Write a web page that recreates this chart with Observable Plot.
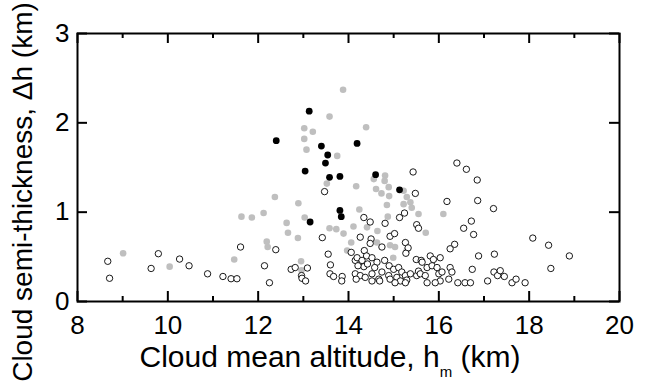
<!DOCTYPE html>
<html>
<head>
<meta charset="utf-8">
<script src="https://cdn.jsdelivr.net/npm/d3@7"></script>
<script src="https://cdn.jsdelivr.net/npm/@observablehq/plot@0.6"></script>
<style>
  html, body { margin: 0; padding: 0; background: #fff; }
  #chart { width: 646px; height: 386px; }
</style>
</head>
<body>
<div id="chart"></div>
<script>
// Black filled circles
const blackPts = [
  [12.40,1.80],[13.13,2.13],[13.04,1.46],[13.40,1.74],[13.54,1.64],[13.49,1.55],
  [14.19,1.77],[13.58,1.39],[13.81,1.40],[14.60,1.42],[15.13,1.25],[13.81,1.02],
  [13.84,0.95],[13.15,0.89]
];
// Gray filled circles
const grayPts = [
  [9.01,0.54],[10.04,0.39],[11.47,0.47],[11.63,0.95],[11.86,0.94],[12.12,0.99],
  [12.37,1.17],[12.63,0.88],[12.66,0.77],[12.19,0.67],[12.21,0.61],[12.89,1.10],
  [12.88,0.71],[13.03,0.94],[12.95,0.45],[12.96,0.35],[13.52,1.32],[13.58,0.82],
  [13.73,0.81],[13.88,2.37],[13.58,2.07],[13.02,1.94],[13.21,1.90],[13.02,1.82],
  [13.07,1.70],[14.39,1.95],[13.75,1.63],[13.89,0.76],[14.06,0.66],[13.97,0.57],
  [14.11,0.84],[14.24,1.03],[14.17,1.29],[14.56,1.37],[14.81,1.41],[14.80,1.35],
  [14.61,1.26],[14.89,1.28],[14.73,1.21],[14.90,1.18],[14.85,1.08],[15.29,1.17],
  [15.22,1.09],[15.37,1.11],[15.55,0.98],[14.41,0.83],[14.64,0.79],[14.87,0.95],
  [15.03,0.61],[15.29,0.57],[14.99,0.49],[14.63,0.66],[14.92,0.63],[16.10,0.98],
  [15.71,0.77],[15.22,1.24],[15.40,1.05]
];
// Open circles
const openPts = [
  [8.67,0.45],[8.71,0.26],[9.63,0.37],[9.79,0.535],[10.26,0.475],[10.47,0.40],
  [10.88,0.31],[11.22,0.28],[11.40,0.255],[11.53,0.255],[11.61,0.61],[12.14,0.40],
  [12.25,0.21],[12.39,0.58],
  [12.73,0.36],[12.82,0.38],[13.09,0.375],[12.96,0.29],[12.97,0.26],[13.05,0.23],
  [13.42,0.715],[13.47,1.23],[13.55,0.53],[13.60,0.41],[13.59,0.31],[13.67,0.28],
  [13.86,0.28],[13.85,0.23],
  [14.34,0.94],[14.48,0.89],[14.26,0.72],[14.50,0.70],[14.48,0.65],[14.35,0.57],
  [14.40,0.51],[14.06,0.55],[14.15,0.46],[14.19,0.49],[14.30,0.46],[14.34,0.39],
  [14.21,0.40],[14.42,0.42],[14.52,0.49],[14.63,0.44],[14.58,0.38],[14.15,0.31],
  [14.26,0.29],[14.17,0.25],[14.37,0.27],[14.52,0.31],[14.52,0.23],
  [14.74,0.61],[14.81,0.875],[14.92,0.73],[15.02,0.76],[15.13,0.94],[15.24,0.99],
  [15.43,1.45],[15.48,1.21],[15.51,0.86],[15.55,0.82],[15.26,0.66],[15.32,0.60],
  [15.27,0.54],[15.50,0.47],[15.61,0.46],[14.67,0.25],[14.74,0.33],[14.80,0.46],
  [14.90,0.40],[15.00,0.36],[15.11,0.38],[15.18,0.33],[15.26,0.29],[15.37,0.31],
  [15.51,0.29],[15.55,0.34],[14.89,0.29],[15.07,0.27],[15.15,0.23],[15.29,0.24],
  [14.69,0.23],[14.92,0.25],[15.03,0.21],[15.26,0.21],
  [15.63,0.44],[15.81,0.51],[15.88,0.47],[16.03,0.49],[15.74,0.38],[15.59,0.31],
  [15.70,0.29],[15.85,0.40],[15.96,0.38],[16.00,0.31],[16.07,0.33],[16.03,0.23],
  [15.74,0.21],[15.92,0.21],[16.25,0.38],[16.29,0.33],[16.22,0.25],[16.42,0.21],
  [16.58,0.21],[16.70,0.21],[16.74,0.36],[16.40,1.55],[16.61,1.48],[16.85,1.36],
  [16.18,1.12],[16.86,1.13],[17.21,1.04],[16.72,0.90],[16.55,0.82],[16.77,0.75],
  [16.35,0.64],[16.25,0.59],[16.88,0.51],[17.23,0.53],[17.08,0.23],[17.22,0.33],
  [18.08,0.71],[18.43,0.63],[18.89,0.51],[18.48,0.37],[17.30,0.29],[17.36,0.345],
  [17.45,0.28],[17.62,0.21],[17.71,0.25],[17.91,0.21]
];
const xMajorTicks = [8, 10, 12, 14, 16, 18, 20];
const xMinorTicks = [9, 11, 13, 15, 17, 19];
const yMajorTicks = [0, 1, 2, 3];
const xTitle = "Cloud mean altitude, h";
const xTitleSub = "m";
const xTitleEnd = " (km)";
const yTitle = "Cloud semi-thickness, \u0394h (km)";

const W = 646, H = 386;
const mL = 77, mR = 27, mT = 33, mB = 85;
const innerH = H - mT - mB;
const majorLen = 10, minorLen = 5;
const FONT = "'Liberation Sans', Arial, sans-serif";

const chart = Plot.plot({
  width: W, height: H,
  marginLeft: mL, marginRight: mR, marginTop: mT, marginBottom: mB,
  style: { fontFamily: FONT, background: "#fff", color: "#000" },
  x: { domain: [8, 20] },
  y: { domain: [0, 3] },
  marks: [
    Plot.dot(grayPts, { x: d => d[0], y: d => d[1], r: 3.3, fill: "#bfbfbf", stroke: "none" }),
    Plot.dot(openPts, { x: d => d[0], y: d => d[1], r: 3.2, fill: "white", stroke: "black", strokeWidth: 0.9 }),
    Plot.dot(blackPts, { x: d => d[0], y: d => d[1], r: 3.4, fill: "black", stroke: "none" }),
    // inward ticks on all four sides
    Plot.tickX(xMajorTicks, { x: d => d, insetTop: innerH - majorLen, stroke: "black", strokeWidth: 2 }),
    Plot.tickX(xMajorTicks, { x: d => d, insetBottom: innerH - majorLen, stroke: "black", strokeWidth: 2 }),
    Plot.tickX(xMinorTicks, { x: d => d, insetTop: innerH - minorLen, stroke: "black", strokeWidth: 2 }),
    Plot.tickX(xMinorTicks, { x: d => d, insetBottom: innerH - minorLen, stroke: "black", strokeWidth: 2 }),
    Plot.tickY(yMajorTicks, { y: d => d, insetRight: (W - mL - mR) - majorLen, stroke: "black", strokeWidth: 2 }),
    Plot.tickY(yMajorTicks, { y: d => d, insetLeft: (W - mL - mR) - majorLen, stroke: "black", strokeWidth: 2 }),
    Plot.axisX({ ticks: xMajorTicks, tickSize: 0, tickPadding: 14, fontSize: 26, label: null, tickFormat: d => String(d) }),
    Plot.axisY({ ticks: yMajorTicks, tickSize: 0, tickPadding: 8, fontSize: 26, label: null, tickFormat: d => String(d) }),
    Plot.frame({ stroke: "black", strokeWidth: 2 })
  ]
});

document.getElementById("chart").appendChild(chart);

// Axis titles (x title needs a subscript, so it is composed with tspans)
const svg = d3.select(chart);
const xt = svg.append("text")
  .attr("x", 330)
  .attr("y", 367)
  .attr("text-anchor", "middle")
  .attr("font-size", 30)
  .attr("font-family", FONT)
  .attr("fill", "black");
xt.append("tspan").text(xTitle);
xt.append("tspan").attr("font-size", 15).attr("dy", 10).text(xTitleSub);
xt.append("tspan").attr("dy", -10).text(xTitleEnd);

svg.append("text")
  .attr("transform", `translate(32, 192) rotate(-90)`)
  .attr("text-anchor", "middle")
  .attr("font-size", 28)
  .attr("font-family", FONT)
  .attr("fill", "black")
  .text(yTitle);
</script>
</body>
</html>
